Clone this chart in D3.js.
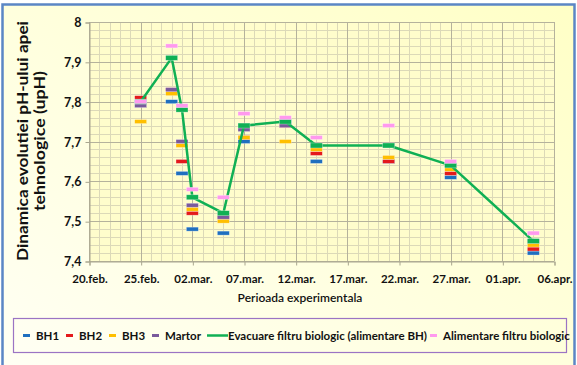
<!DOCTYPE html>
<html>
<head>
<meta charset="utf-8">
<script src="https://cdn.jsdelivr.net/npm/d3@7"></script>
<style>
  html, body { margin: 0; padding: 0; background: #ffffff; }
  svg { display: block; font-family: Lato, "Open Sans", sans-serif; }
</style>
</head>
<body>
<svg id="chart" width="577" height="365"></svg>
<script>
// Sampling dates (2015, daily resolution)
const dates = ["2015-02-25", "2015-02-28", "2015-03-01", "2015-03-02", "2015-03-05",
               "2015-03-07", "2015-03-11", "2015-03-14", "2015-03-21", "2015-03-27", "2015-04-04"];

// pH values per series
const bh1     = [7.80, 7.80, 7.62, 7.48, 7.47, 7.70, 7.75, 7.65, 7.65, 7.61, 7.42];
const bh2     = [7.81, 7.83, 7.65, 7.52, 7.51, 7.71, 7.74, 7.67, 7.65, 7.62, 7.43];
const bh3     = [7.75, 7.82, 7.69, 7.53, 7.50, 7.71, 7.70, 7.68, 7.66, 7.63, 7.44];
const martor  = [7.79, 7.83, 7.70, 7.54, 7.51, 7.73, 7.74, 7.69, 7.69, 7.64, 7.45];
const evacuare  = [7.80, 7.91, 7.78, 7.56, 7.52, 7.74, 7.75, 7.69, 7.69, 7.64, 7.45];
const alimentare = [7.80, 7.94, 7.79, 7.58, 7.56, 7.77, 7.76, 7.71, 7.74, 7.65, 7.47];

// Axis ticks
const xTickLabels = ["20.feb.", "25.feb.", "02.mar.", "07.mar.", "12.mar.", "17.mar.",
                     "22.mar.", "27.mar.", "01.apr.", "06.apr."];
const yTicks = [7.4, 7.5, 7.6, 7.7, 7.8, 7.9, 8.0];

const seriesNames = ["BH1", "BH2", "BH3", "Martor",
                     "Evacuare filtru biologic (alimentare BH)", "Alimentare filtru biologic"];
const colors = ["#1f6fbf", "#e41a1c", "#ffbf00", "#7a5a9c", "#10b054", "#ff99ee"];

const parse = d3.timeParse("%Y-%m-%d");
const dateObjs = dates.map(parse);

const svg = d3.select("#chart");
const W = 577, H = 365;

// Background gradients
const defs = svg.append("defs");
const bg = defs.append("linearGradient").attr("id", "bgGrad")
  .attr("x1", "0").attr("y1", "1").attr("x2", "1").attr("y2", "0");
bg.append("stop").attr("offset", "0").attr("stop-color", "#fffff4");
bg.append("stop").attr("offset", "1").attr("stop-color", "#ffffc6");

svg.append("rect").attr("x", 0).attr("y", 0).attr("width", W).attr("height", H).attr("fill", "#ffffff");
svg.append("rect").attr("x", 2.5).attr("y", 4.5).attr("width", 572).attr("height", 362)
  .attr("fill", "url(#bgGrad)").attr("stroke", "#5b86c5").attr("stroke-width", 2.5);

const plot = { left: 89, right: 554, top: 22, bottom: 261 };

const x = d3.scaleTime()
  .domain([parse("2015-02-20"), parse("2015-04-06")])
  .range([plot.left, plot.right]);
const y = d3.scaleLinear().domain([7.4, 8.0]).range([plot.bottom, plot.top]);

// Plot area fill
svg.append("rect").attr("x", plot.left).attr("y", plot.top)
  .attr("width", plot.right - plot.left).attr("height", plot.bottom - plot.top)
  .attr("fill", "#fffdcc");

// Minor gridlines
const minorDays = d3.timeDay.range(parse("2015-02-20"), d3.timeDay.offset(parse("2015-04-06"), 1));
svg.append("g").selectAll("line").data(minorDays).join("line")
  .attr("x1", d => Math.round(x(d)) + 0.5).attr("x2", d => Math.round(x(d)) + 0.5)
  .attr("y1", plot.top).attr("y2", plot.bottom)
  .attr("stroke", "#dcd9b8").attr("stroke-width", 1);
const minorY = d3.range(0, 31).map(i => 7.4 + i * 0.02);
svg.append("g").selectAll("line").data(minorY).join("line")
  .attr("x1", plot.left).attr("x2", plot.right)
  .attr("y1", d => Math.round(y(d)) + 0.5).attr("y2", d => Math.round(y(d)) + 0.5)
  .attr("stroke", "#dcd9b8").attr("stroke-width", 1);

// Major gridlines
const majorDates = xTickLabels.map((_, i) => d3.timeDay.offset(parse("2015-02-20"), i * 5));
svg.append("g").selectAll("line").data(majorDates).join("line")
  .attr("x1", d => Math.round(x(d)) + 0.5).attr("x2", d => Math.round(x(d)) + 0.5)
  .attr("y1", plot.top).attr("y2", plot.bottom)
  .attr("stroke", "#b5b29c").attr("stroke-width", 1);
svg.append("g").selectAll("line").data(yTicks).join("line")
  .attr("x1", plot.left).attr("x2", plot.right)
  .attr("y1", d => Math.round(y(d)) + 0.5).attr("y2", d => Math.round(y(d)) + 0.5)
  .attr("stroke", "#b5b29c").attr("stroke-width", 1);

// Axes
const fmtY = v => d3.format(".1f")(v).replace(".", ",").replace(/,0$/, "");
const yAxis = d3.axisLeft(y).tickValues(yTicks).tickFormat(fmtY).tickSize(4).tickPadding(4);
const yg = svg.append("g").attr("transform", `translate(${plot.left + 0.5},0.5)`).call(yAxis);
yg.select(".domain").attr("stroke", "#a9a68f");
yg.selectAll(".tick line").attr("stroke", "#a9a68f");
yg.selectAll("text").attr("font-size", 12.5).attr("font-weight", "bold").attr("fill", "#111")
  .attr("font-family", "Lato, sans-serif");

const xAxis = d3.axisBottom(x).tickValues(majorDates)
  .tickFormat((d, i) => xTickLabels[i]).tickSize(4).tickPadding(9);
const xg = svg.append("g").attr("transform", `translate(0.5,${plot.bottom + 0.5})`).call(xAxis);
xg.select(".domain").attr("stroke", "#a9a68f");
xg.selectAll(".tick line").attr("stroke", "#a9a68f");
xg.selectAll("text").attr("font-size", 11.5).attr("font-weight", "bold").attr("fill", "#111")
  .attr("font-family", "Lato, sans-serif");

// Axis titles
svg.append("text").attr("x", 300).attr("y", 302).attr("text-anchor", "middle")
  .attr("font-size", 12).attr("font-weight", "600").attr("fill", "#111")
  .text("Perioada experimentala");
const yt = svg.append("text").attr("transform", "translate(31,141) rotate(-90)")
  .attr("text-anchor", "middle").attr("font-size", 14.5).attr("font-weight", "bold").attr("fill", "#111");
yt.append("tspan").attr("x", 0).attr("dy", -3)
  .attr("textLength", 240).attr("lengthAdjust", "spacingAndGlyphs")
  .text("Dinamica evolutiei pH-ului apei");
yt.append("tspan").attr("x", 0).attr("dy", 17)
  .attr("textLength", 140).attr("lengthAdjust", "spacingAndGlyphs")
  .text("tehnologice (upH)");

// Marker series
const mw = 12, mh = 4;

function drawMarkers(vals, color, h) {
  svg.append("g").selectAll("rect").data(vals).join("rect")
    .attr("x", (d, i) => x(dateObjs[i]) - mw / 2)
    .attr("y", d => y(d) - h / 2)
    .attr("width", mw).attr("height", h)
    .attr("fill", color)
    .attr("stroke", "rgba(255,255,255,0.5)").attr("stroke-width", 0.6);
}

drawMarkers(bh1, colors[0], mh);
drawMarkers(bh2, colors[1], mh);
drawMarkers(bh3, colors[2], mh);
drawMarkers(martor, colors[3], mh);

// Outflow line
const line = d3.line().x((d, i) => x(dateObjs[i])).y(d => y(d));
svg.append("path").datum(evacuare).attr("d", line)
  .attr("fill", "none").attr("stroke", colors[4]).attr("stroke-width", 2.5)
  .attr("stroke-linejoin", "round");
drawMarkers(evacuare, colors[4], 5);
drawMarkers(alimentare, colors[5], mh);

// Legend
svg.append("rect").attr("x", 13.5).attr("y", 318.5).attr("width", 553).attr("height", 34)
  .attr("fill", "none").attr("stroke", "#9b74c4").attr("stroke-width", 1.2);

const legendX = [23, 66, 109, 152, 207, 430];
const lg = svg.append("g").attr("font-size", 11.5).attr("font-weight", "bold").attr("fill", "#111");
seriesNames.forEach((name, i) => {
  const lx = legendX[i];
  if (i === 4) {
    lg.append("line").attr("x1", lx).attr("x2", lx + 21).attr("y1", 335.5).attr("y2", 335.5)
      .attr("stroke", colors[i]).attr("stroke-width", 2.5);
    lg.append("text").attr("x", lx + 21).attr("y", 339.5).text(name);
  } else {
    lg.append("rect").attr("x", lx).attr("y", 334).attr("width", 7).attr("height", 3)
      .attr("fill", colors[i]);
    lg.append("text").attr("x", lx + 13).attr("y", 339.5).text(name);
  }
});
</script>
</body>
</html>
